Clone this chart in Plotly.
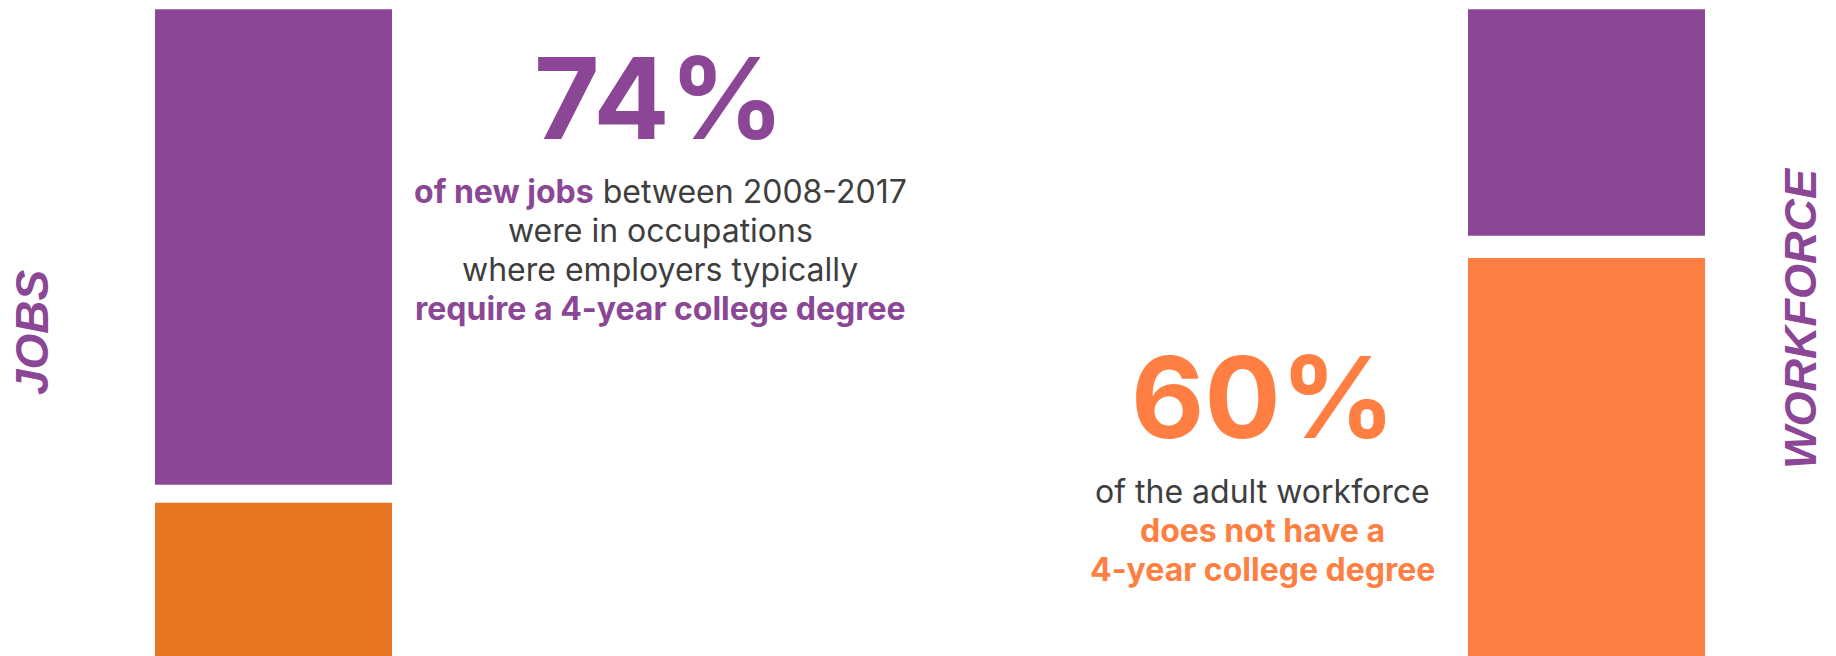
import plotly.graph_objects as go

# ---- data -------------------------------------------------------------
jobs_shares = [74, 26]          # new jobs: require degree / do not
workforce_shares = [40, 60]     # adult workforce: has degree / does not
share_labels = ["4-year degree", "no 4-year degree"]

# ---- styling ----------------------------------------------------------
W, H = 1836, 656
PURPLE = "#8B4795"
ORANGE_JOBS = "#E67622"
ORANGE_WF = "#FE7F41"
GRAY = "#3E3E3E"
BODY_FONT = "Inter"
LABEL_FONT = "Liberation Sans"

PX_PER_UNIT = 8.0          # vertical scale of both columns
PLOT_TOP = 9.3             # pixel where the plotting area begins

def y_range(split_value, split_px):
    """Reversed y range so that `split_value` lands at pixel row `split_px`."""
    r0 = split_value - (split_px - PLOT_TOP) / PX_PER_UNIT
    r1 = r0 + (H - PLOT_TOP) / PX_PER_UNIT
    return [r1, r0]

fig = go.Figure()

def add_column(shares, colors, gap_px, xa, ya):
    top, bottom = shares
    gap = gap_px / PX_PER_UNIT
    fig.add_trace(go.Bar(x=[0], y=[top], base=[0], width=[1],
                         marker=dict(color=colors[0], line=dict(width=0)),
                         name=share_labels[0], xaxis=xa, yaxis=ya,
                         hoverinfo="skip"))
    fig.add_trace(go.Bar(x=[0], y=[bottom], base=[top + gap], width=[1.008],
                         marker=dict(color=colors[1], line=dict(width=0)),
                         name=share_labels[1], xaxis=xa, yaxis=ya,
                         hoverinfo="skip"))

add_column(jobs_shares, [PURPLE, ORANGE_JOBS], 18, "x", "y")
add_column(workforce_shares, [PURPLE, ORANGE_WF], 22.3, "x2", "y2")

axis_off = dict(showgrid=False, zeroline=False, showticklabels=False,
                showline=False, ticks="", fixedrange=True)

fig.update_layout(
    width=W, height=H,
    margin=dict(l=0, r=0, t=0, b=0),
    paper_bgcolor="white", plot_bgcolor="white",
    showlegend=False, barmode="overlay",
    xaxis=dict(domain=[155 / W, 392 / W], range=[-0.5, 0.5], **axis_off),
    yaxis=dict(domain=[0, 1 - PLOT_TOP / H],
               range=y_range(jobs_shares[0], 484.7), **axis_off),
    xaxis2=dict(domain=[1468 / W, 1705 / W], range=[-0.5, 0.5],
                anchor="y2", **axis_off),
    yaxis2=dict(domain=[0, 1 - PLOT_TOP / H], anchor="x2",
                range=y_range(workforce_shares[0], 235.7), **axis_off),
)

def note(text, cx, cy, size, color=GRAY, family=BODY_FONT, angle=0):
    fig.add_annotation(text=text, x=cx / W, y=1 - cy / H,
                       xref="paper", yref="paper", showarrow=False,
                       xanchor="center", yanchor="middle", textangle=angle,
                       font=dict(family=family, size=size, color=color))

# side labels
note("<b><i>JOBS</i></b>", 32, 332, 46, PURPLE, LABEL_FONT, -90)
note("<b><i>WORKFORCE</i></b>", 1800, 318, 45, PURPLE, LABEL_FONT, -90)

# jobs callout
note(f"<b>{jobs_shares[0]}%</b>", 659, 98, 113, PURPLE)
jobs_lines = [
    f"<b><span style='color:{PURPLE}'>of new jobs</span></b> between 2008-2017",
    "were in occupations",
    "where employers typically",
    f"<b><span style='color:{PURPLE}'>require a 4-year college degree</span></b>",
]
for i, line in enumerate(jobs_lines):
    note(line, 660, 191 + 39.3 * i, 32)

# workforce callout
note(f"<b>{workforce_shares[1]}%</b>", 1263, 397, 113, ORANGE_WF)
wf_lines = [
    "of the adult workforce",
    f"<b><span style='color:{ORANGE_WF}'>does not have a</span></b>",
    f"<b><span style='color:{ORANGE_WF}'>4-year college degree</span></b>",
]
for i, line in enumerate(wf_lines):
    note(line, 1262, 491 + 39 * i, 32)

fig.write_html("out.html")
